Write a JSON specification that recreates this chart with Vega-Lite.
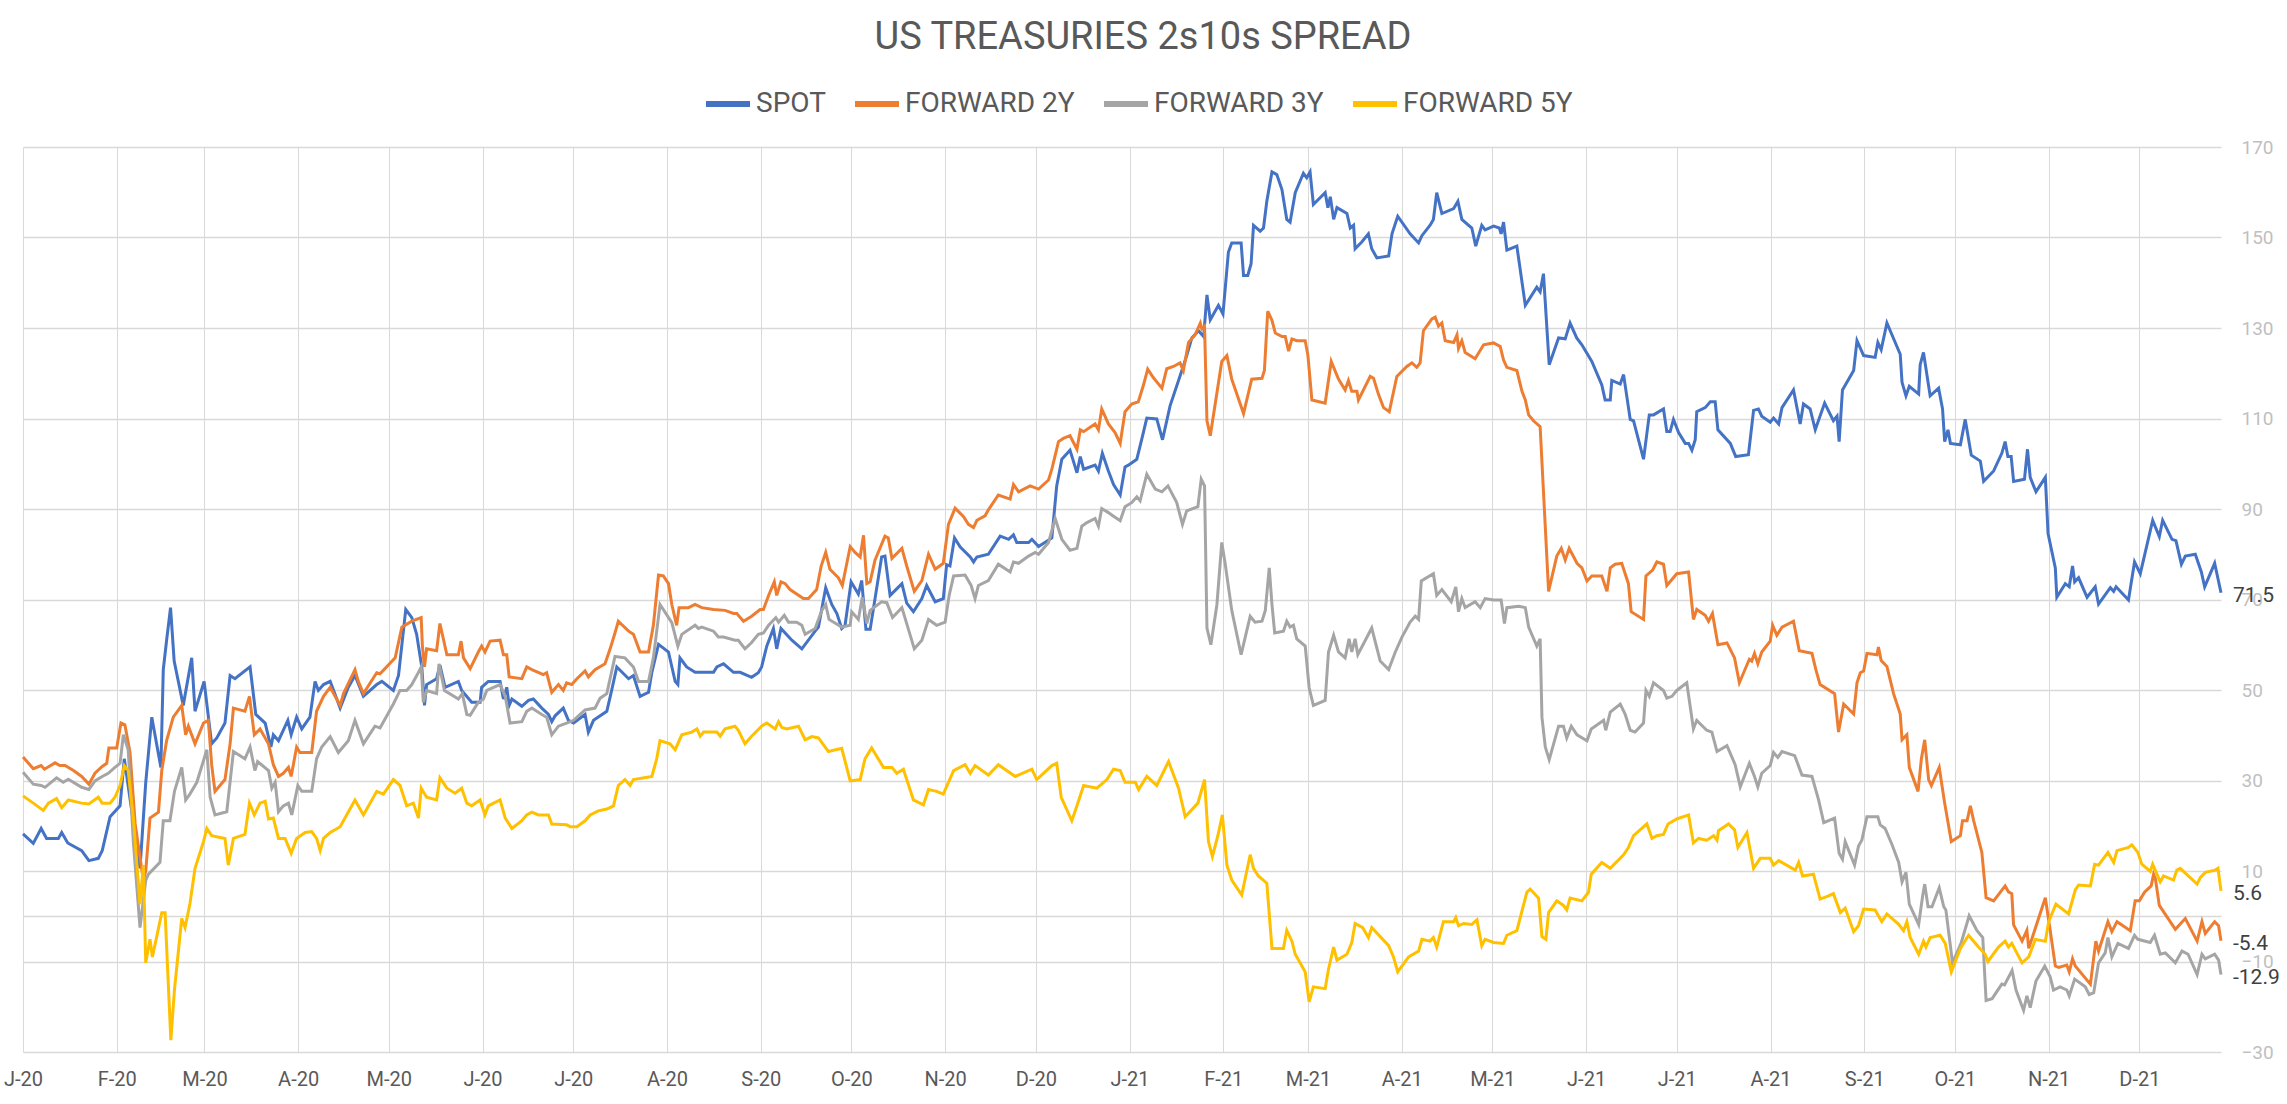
{
"$schema":"https://vega.github.io/schema/vega-lite/v6.json",
"width":2198,"height":905,
"autosize":{"type":"none"},
"padding":{"left":23,"top":147,"right":66,"bottom":52},
"background":"white",
"config":{"font":"Roboto","view":{"stroke":null},
 "legend":{"orient":"none","legendX":680,"legendY":-68,"direction":"horizontal","symbolType":"stroke","symbolSize":1936,"symbolStrokeWidth":6,"labelFontSize":28,"labelColor":"#595959","labelLimit":0,"columnPadding":17,"labelOffset":3,"title":null}},
"title":{"text":"US TREASURIES 2s10s SPREAD","fontSize":38,"fontWeight":"normal","color":"#595959","anchor":"middle","dx":21,"offset":22},
"datasets":{
"spot":[{"d":0,"v":18.2},{"d":3.4,"v":16.1},{"d":6,"v":19.4},{"d":7.8,"v":17.2},{"d":11.7,"v":17.2},{"d":12.8,"v":18.5},{"d":14.8,"v":16.2},{"d":19.4,"v":14.5},{"d":21.8,"v":12.3},{"d":24.9,"v":12.8},{"d":26.2,"v":14.5},{"d":28.8,"v":22},{"d":32.1,"v":24.4},{"d":33.5,"v":34.8},{"d":38.7,"v":10.6},{"d":40.6,"v":29.6},{"d":42.6,"v":44},{"d":45.6,"v":32.9},{"d":46.4,"v":54.5},{"d":47.5,"v":61},{"d":48.8,"v":68.2},{"d":50,"v":56.4},{"d":53,"v":46.6},{"d":55.8,"v":57.1},{"d":56.9,"v":45.3},{"d":59.9,"v":51.9},{"d":62.4,"v":38.1},{"d":64.1,"v":39.4},{"d":66.8,"v":42.7},{"d":68.5,"v":53.2},{"d":70.1,"v":52.5},{"d":75.1,"v":55.1},{"d":77,"v":44.6},{"d":80.1,"v":42.7},{"d":82,"v":37.4},{"d":82.8,"v":40.1},{"d":84.5,"v":38.8},{"d":87.6,"v":43.3},{"d":88.7,"v":40.1},{"d":90.5,"v":44},{"d":92.2,"v":41.4},{"d":94.9,"v":44},{"d":96.6,"v":51.9},{"d":97.7,"v":49.9},{"d":99.4,"v":51.2},{"d":101.6,"v":51.9},{"d":104.9,"v":46},{"d":107.6,"v":50.6},{"d":109.8,"v":53.2},{"d":112.6,"v":48.6},{"d":117,"v":51.2},{"d":118.7,"v":51.9},{"d":122.5,"v":49.9},{"d":124.2,"v":53.2},{"d":126.6,"v":67.8},{"d":128.6,"v":66},{"d":130.2,"v":62.3},{"d":131.9,"v":55.1},{"d":132.8,"v":46.6},{"d":133.5,"v":51.2},{"d":136.8,"v":52.5},{"d":137.9,"v":55.5},{"d":139.6,"v":50.6},{"d":144,"v":51.9},{"d":145.1,"v":49.9},{"d":148.4,"v":47.3},{"d":151.2,"v":47.3},{"d":151.7,"v":50.6},{"d":153.9,"v":51.9},{"d":157.8,"v":51.9},{"d":158.9,"v":48},{"d":160,"v":50.6},{"d":160.8,"v":46.6},{"d":161.7,"v":48},{"d":165,"v":46.4},{"d":167.2,"v":47.7},{"d":168.8,"v":48},{"d":171.6,"v":46},{"d":173.8,"v":44.6},{"d":174.9,"v":43},{"d":176,"v":44.3},{"d":178.7,"v":46},{"d":180.4,"v":43.3},{"d":182.1,"v":42.7},{"d":185.9,"v":44.6},{"d":187,"v":40.7},{"d":188.7,"v":43.3},{"d":193.1,"v":45.3},{"d":194.7,"v":49.9},{"d":196.4,"v":55.1},{"d":200.3,"v":52.5},{"d":201.9,"v":53.2},{"d":204.1,"v":48.6},{"d":206.9,"v":49.5},{"d":208,"v":53.9},{"d":210.2,"v":60.1},{"d":213.5,"v":58.4},{"d":215.7,"v":51.9},{"d":216.6,"v":51.2},{"d":217.3,"v":57.1},{"d":219.5,"v":55.1},{"d":222.3,"v":53.9},{"d":228.4,"v":53.9},{"d":229.5,"v":55.1},{"d":231.7,"v":55.8},{"d":235,"v":53.9},{"d":237.2,"v":53.9},{"d":241,"v":52.8},{"d":243.2,"v":53.8},{"d":244.3,"v":55.1},{"d":246,"v":59.7},{"d":248.2,"v":63.6},{"d":249.3,"v":59.1},{"d":250.7,"v":63.6},{"d":254.3,"v":61},{"d":257.6,"v":59.1},{"d":262,"v":63},{"d":263.1,"v":63.9},{"d":265.5,"v":72.6},{"d":267.5,"v":68.9},{"d":269.2,"v":66.9},{"d":270.8,"v":63.6},{"d":271.9,"v":64.3},{"d":273.9,"v":73.9},{"d":276.3,"v":71.2},{"d":277.4,"v":74.2},{"d":278.8,"v":63.4},{"d":280.2,"v":63.4},{"d":284,"v":79.4},{"d":285.1,"v":79.6},{"d":286.8,"v":70.9},{"d":290.7,"v":73.5},{"d":292.3,"v":69.2},{"d":294.5,"v":67.3},{"d":297.3,"v":70.2},{"d":298.9,"v":73.1},{"d":301.7,"v":69.5},{"d":304.4,"v":70.2},{"d":305.5,"v":77.7},{"d":306.6,"v":77.4},{"d":308.1,"v":83.6},{"d":310,"v":81.6},{"d":313.3,"v":79.4},{"d":314.4,"v":78.3},{"d":315.5,"v":79.4},{"d":319.3,"v":80},{"d":323.2,"v":84},{"d":326,"v":83.3},{"d":327.6,"v":84.3},{"d":328.7,"v":82.6},{"d":332.6,"v":82.6},{"d":333.7,"v":83.3},{"d":335.9,"v":81.7},{"d":340.3,"v":83.6},{"d":341.9,"v":95.1},{"d":343.6,"v":101},{"d":346.3,"v":103},{"d":348.6,"v":98},{"d":349.7,"v":101.6},{"d":350.8,"v":98.8},{"d":354.6,"v":99.7},{"d":355.7,"v":98.4},{"d":357,"v":102.3},{"d":359,"v":98.4},{"d":360.7,"v":95.4},{"d":362.9,"v":93.1},{"d":364.5,"v":99.3},{"d":365.6,"v":99.7},{"d":368.4,"v":101},{"d":370.1,"v":105.6},{"d":371.7,"v":110.1},{"d":375,"v":109.9},{"d":376.9,"v":105.3},{"d":379.4,"v":112.8},{"d":383.3,"v":120.6},{"d":384.9,"v":123.9},{"d":386.6,"v":127.8},{"d":388.8,"v":129.4},{"d":390.5,"v":128.1},{"d":391.6,"v":137.3},{"d":392.7,"v":131.8},{"d":395.4,"v":135},{"d":396.9,"v":133.1},{"d":398.7,"v":146.8},{"d":399.8,"v":148.8},{"d":402.9,"v":148.8},{"d":403.7,"v":141.6},{"d":405.1,"v":141.6},{"d":406.2,"v":144.2},{"d":407,"v":152.7},{"d":409.2,"v":151.4},{"d":410.3,"v":152.1},{"d":411.4,"v":158},{"d":413.1,"v":164.5},{"d":414.7,"v":163.9},{"d":416.4,"v":160.6},{"d":418,"v":154},{"d":419.1,"v":153.4},{"d":420.8,"v":159.9},{"d":423.5,"v":164.2},{"d":424.6,"v":163.2},{"d":425.7,"v":164.5},{"d":426.8,"v":157.3},{"d":430.7,"v":159.9},{"d":431.6,"v":156.6},{"d":432.4,"v":159},{"d":433.5,"v":154},{"d":434.6,"v":156.6},{"d":437.9,"v":155.3},{"d":439,"v":152.1},{"d":440.1,"v":152.7},{"d":440.6,"v":147.5},{"d":442.8,"v":149},{"d":445,"v":150.8},{"d":446.1,"v":147.5},{"d":447.8,"v":145.5},{"d":451.7,"v":145.9},{"d":452.8,"v":150.8},{"d":454.7,"v":154.7},{"d":458.8,"v":150.8},{"d":461.6,"v":148.8},{"d":462.7,"v":150.4},{"d":465.4,"v":152.7},{"d":466.5,"v":154},{"d":467.6,"v":159.9},{"d":469.3,"v":155.3},{"d":473.2,"v":156.4},{"d":474.6,"v":158},{"d":475.9,"v":154},{"d":479.2,"v":152.1},{"d":480.5,"v":148.1},{"d":482.5,"v":152.7},{"d":483.6,"v":151.7},{"d":486.4,"v":152.5},{"d":488.3,"v":152.1},{"d":488.9,"v":150.8},{"d":489.7,"v":153.4},{"d":490.8,"v":147.2},{"d":494.1,"v":148.1},{"d":496.9,"v":135},{"d":500.7,"v":139},{"d":501.8,"v":138},{"d":502.9,"v":142},{"d":504.8,"v":121.9},{"d":507.9,"v":127.8},{"d":510.1,"v":127.6},{"d":511.7,"v":131.1},{"d":513.9,"v":127.8},{"d":515.6,"v":126.3},{"d":518.9,"v":122.6},{"d":522.2,"v":117.4},{"d":523.3,"v":114.1},{"d":525,"v":114.1},{"d":525.5,"v":118.4},{"d":528.3,"v":117.6},{"d":529.4,"v":119.7},{"d":531.6,"v":109.8},{"d":532.7,"v":109.5},{"d":536,"v":101},{"d":537.9,"v":110.8},{"d":539.3,"v":110.8},{"d":542.6,"v":112.1},{"d":543.7,"v":107.1},{"d":544.8,"v":107.1},{"d":545.9,"v":109.8},{"d":547.6,"v":106.9},{"d":549.8,"v":104.5},{"d":550.9,"v":104.5},{"d":552,"v":103},{"d":553.1,"v":105.3},{"d":553.6,"v":111.5},{"d":556.4,"v":112.4},{"d":558.1,"v":113.7},{"d":559.7,"v":113.7},{"d":560.6,"v":107.5},{"d":564.7,"v":104.5},{"d":566.5,"v":101.6},{"d":570.7,"v":102},{"d":572.4,"v":111.8},{"d":574,"v":112.1},{"d":575.1,"v":110.5},{"d":577.9,"v":109.2},{"d":579,"v":110.1},{"d":580.7,"v":108.8},{"d":581.8,"v":112.4},{"d":585.6,"v":116.3},{"d":587.8,"v":108.8},{"d":588.9,"v":113.2},{"d":591.1,"v":112.1},{"d":592.8,"v":107.5},{"d":595.9,"v":113.4},{"d":598.8,"v":109.5},{"d":600,"v":110.5},{"d":600.7,"v":104.9},{"d":601.8,"v":116.3},{"d":605.5,"v":120.6},{"d":606.6,"v":127.2},{"d":608.8,"v":123.9},{"d":612.6,"v":123.5},{"d":613.5,"v":126.8},{"d":614.6,"v":125.2},{"d":616.5,"v":131.1},{"d":620.9,"v":124.2},{"d":621.5,"v":118},{"d":622.8,"v":115},{"d":623.9,"v":117.1},{"d":627,"v":115.4},{"d":627.5,"v":121.9},{"d":628.6,"v":124.6},{"d":630.8,"v":115},{"d":633.6,"v":116.7},{"d":634.9,"v":112.1},{"d":635.6,"v":104.9},{"d":636.7,"v":107.5},{"d":637.5,"v":104.5},{"d":640.8,"v":104.2},{"d":642.4,"v":109.8},{"d":644.4,"v":101.9},{"d":647.4,"v":100.6},{"d":648.5,"v":96.1},{"d":651.8,"v":98.4},{"d":654.5,"v":102.3},{"d":655.6,"v":104.9},{"d":656.5,"v":101.6},{"d":657.6,"v":101.6},{"d":658.4,"v":96.1},{"d":662,"v":96.6},{"d":663,"v":103.2},{"d":663.9,"v":97},{"d":665.8,"v":93.8},{"d":668.9,"v":97},{"d":669.8,"v":84.6},{"d":672.2,"v":77},{"d":672.7,"v":70.5},{"d":675.5,"v":73.5},{"d":676.8,"v":72.8},{"d":677.9,"v":77.4},{"d":678.6,"v":73.9},{"d":679.9,"v":74.8},{"d":682.7,"v":70.5},{"d":685.4,"v":72.8},{"d":686.5,"v":69},{"d":690.4,"v":72.6},{"d":691.5,"v":71.8},{"d":692.3,"v":72.8},{"d":696.4,"v":69.9},{"d":698.4,"v":78.3},{"d":700.3,"v":75.7},{"d":704.4,"v":87.5},{"d":706.6,"v":83.9},{"d":707.7,"v":87.5},{"d":710.8,"v":83.3},{"d":712.1,"v":83},{"d":713.9,"v":77.8},{"d":715.2,"v":79.6},{"d":718.5,"v":80},{"d":720.5,"v":76.1},{"d":721.6,"v":72.8},{"d":724.9,"v":78},{"d":727,"v":71.5}],
"f2":[{"d":0,"v":35.2},{"d":3.4,"v":32.6},{"d":6,"v":33.3},{"d":7.1,"v":32.5},{"d":10.6,"v":33.9},{"d":12.2,"v":33.3},{"d":13.9,"v":33.3},{"d":16.7,"v":32.2},{"d":19.4,"v":30.9},{"d":21.8,"v":29.2},{"d":23.8,"v":31.6},{"d":26.2,"v":33.1},{"d":27.7,"v":33.8},{"d":28.4,"v":37.2},{"d":31,"v":37.2},{"d":32.4,"v":42.7},{"d":33.7,"v":42.3},{"d":35.4,"v":36.2},{"d":37.1,"v":20.4},{"d":39.8,"v":8},{"d":40.6,"v":10},{"d":42,"v":21.7},{"d":44.8,"v":23},{"d":45.9,"v":32.2},{"d":47.5,"v":38.8},{"d":49.7,"v":44},{"d":52.5,"v":46.6},{"d":53.8,"v":40.1},{"d":54.7,"v":42},{"d":56.9,"v":38.1},{"d":59.7,"v":42.7},{"d":61.3,"v":43.3},{"d":62.4,"v":33.5},{"d":63.5,"v":27.6},{"d":66.8,"v":30.2},{"d":68.5,"v":38.1},{"d":69.6,"v":46},{"d":73.4,"v":45.3},{"d":74.9,"v":48.6},{"d":76.5,"v":40.1},{"d":78.4,"v":41.4},{"d":81.2,"v":38.1},{"d":82.8,"v":33.5},{"d":84.5,"v":30.9},{"d":86.1,"v":31.6},{"d":87.8,"v":32.9},{"d":88.7,"v":30.9},{"d":90.5,"v":37.4},{"d":91.6,"v":36.2},{"d":95.5,"v":36.2},{"d":97.1,"v":45.3},{"d":99.4,"v":48.6},{"d":101.6,"v":50.6},{"d":104.9,"v":46.6},{"d":106,"v":49.2},{"d":109.8,"v":54.5},{"d":110.9,"v":51.9},{"d":112.6,"v":49.2},{"d":117,"v":53.8},{"d":118.1,"v":53.6},{"d":123.1,"v":57.1},{"d":125.3,"v":63.9},{"d":128.6,"v":65.2},{"d":131.7,"v":66},{"d":132.1,"v":59.7},{"d":132.8,"v":55.1},{"d":133.5,"v":59.1},{"d":136.8,"v":58.7},{"d":137.9,"v":64.7},{"d":140.2,"v":57.8},{"d":144,"v":57.8},{"d":144.9,"v":60.8},{"d":145.7,"v":57.1},{"d":147.9,"v":54.7},{"d":150.6,"v":58.4},{"d":151.7,"v":59.7},{"d":152.8,"v":58.4},{"d":154.5,"v":60.8},{"d":157.8,"v":61},{"d":158.9,"v":57.8},{"d":160,"v":57.8},{"d":160.8,"v":52.9},{"d":165,"v":52.5},{"d":166.6,"v":55.1},{"d":168.3,"v":54.5},{"d":172.1,"v":53.4},{"d":173.2,"v":53.8},{"d":174.9,"v":49.5},{"d":177.1,"v":51.2},{"d":178.7,"v":49.9},{"d":179.8,"v":51.6},{"d":181.5,"v":51.2},{"d":183.2,"v":52.5},{"d":185.9,"v":54.2},{"d":187,"v":52.9},{"d":189.2,"v":54.5},{"d":192.5,"v":55.8},{"d":194.2,"v":59.1},{"d":195.8,"v":62.6},{"d":196.9,"v":65.2},{"d":200.3,"v":63},{"d":201.9,"v":62.3},{"d":204.1,"v":58.4},{"d":206.9,"v":58.4},{"d":208.5,"v":64.3},{"d":210.2,"v":75.4},{"d":211.8,"v":75.2},{"d":213.5,"v":73.5},{"d":214.6,"v":68.9},{"d":216.2,"v":64.3},{"d":217,"v":68.2},{"d":220.1,"v":68.2},{"d":222.3,"v":68.9},{"d":224.5,"v":68.2},{"d":228.4,"v":67.8},{"d":232.2,"v":67.6},{"d":235,"v":66.9},{"d":236.1,"v":66.9},{"d":238.3,"v":65.2},{"d":241,"v":66.3},{"d":243.8,"v":67.8},{"d":244.9,"v":67.8},{"d":246.6,"v":70.9},{"d":248.5,"v":73.9},{"d":249.3,"v":70.9},{"d":250.7,"v":73.9},{"d":252.1,"v":73.5},{"d":253.7,"v":72.2},{"d":255.9,"v":71.2},{"d":258.1,"v":70.2},{"d":259.8,"v":70.2},{"d":262.5,"v":72.2},{"d":264,"v":77.4},{"d":265.5,"v":80.4},{"d":266.9,"v":76.7},{"d":269.7,"v":74.8},{"d":271,"v":73.1},{"d":273.6,"v":81.7},{"d":275.2,"v":80.4},{"d":276.9,"v":79.4},{"d":278,"v":84.2},{"d":279.1,"v":73.5},{"d":280.2,"v":73.9},{"d":281.8,"v":78.7},{"d":285.1,"v":84},{"d":286.2,"v":83.6},{"d":287.4,"v":79.1},{"d":290.7,"v":81.3},{"d":292.3,"v":77.4},{"d":294.8,"v":71.8},{"d":297.3,"v":74.2},{"d":299.5,"v":80},{"d":301.7,"v":76.7},{"d":304.4,"v":78},{"d":306.1,"v":86.6},{"d":308.3,"v":90.2},{"d":311.1,"v":88.3},{"d":312.7,"v":86.6},{"d":314.4,"v":85.9},{"d":315.5,"v":87.5},{"d":318.2,"v":88.5},{"d":319.3,"v":89.8},{"d":322.6,"v":93.1},{"d":326.5,"v":92.2},{"d":327.6,"v":95.4},{"d":329.3,"v":93.8},{"d":333.1,"v":95.1},{"d":335.9,"v":94.4},{"d":339.2,"v":96.4},{"d":340.3,"v":98.8},{"d":342.5,"v":104.9},{"d":344.1,"v":105.6},{"d":346.3,"v":106.2},{"d":348.6,"v":103.2},{"d":349.7,"v":107.5},{"d":350.8,"v":107.1},{"d":354.6,"v":108.8},{"d":355.7,"v":107.5},{"d":356.8,"v":112.1},{"d":359,"v":108.8},{"d":361.2,"v":106.9},{"d":362.9,"v":104.5},{"d":364.5,"v":111.5},{"d":366.7,"v":113.2},{"d":368.9,"v":113.7},{"d":370.6,"v":117.4},{"d":372,"v":120.9},{"d":373.9,"v":119},{"d":375.6,"v":117.6},{"d":376.7,"v":116.7},{"d":378.3,"v":121},{"d":380.5,"v":121.5},{"d":382.7,"v":122.3},{"d":383.8,"v":120.6},{"d":385.5,"v":126.8},{"d":387.7,"v":128.5},{"d":389.4,"v":131.1},{"d":389.9,"v":129.8},{"d":390.8,"v":130.4},{"d":391.6,"v":109.5},{"d":392.7,"v":106.2},{"d":396.5,"v":122.6},{"d":398.2,"v":123.9},{"d":399.8,"v":118.7},{"d":403.7,"v":111.1},{"d":406.4,"v":118.7},{"d":409.8,"v":118.9},{"d":410.6,"v":120.6},{"d":411.7,"v":133.7},{"d":413.1,"v":131.7},{"d":414.2,"v":128.9},{"d":416.4,"v":128.1},{"d":417.5,"v":128.1},{"d":418.6,"v":124.9},{"d":419.7,"v":127.6},{"d":421.3,"v":127.2},{"d":424.1,"v":127.2},{"d":425,"v":123.9},{"d":426.3,"v":114.1},{"d":430.7,"v":113.4},{"d":432.7,"v":122.6},{"d":435.1,"v":118.7},{"d":437.3,"v":116.3},{"d":438.4,"v":118.4},{"d":439.5,"v":116},{"d":441.2,"v":116},{"d":441.7,"v":114.1},{"d":445.6,"v":119.3},{"d":446.7,"v":118.9},{"d":448.3,"v":115.4},{"d":450,"v":112.4},{"d":451.9,"v":111.5},{"d":454.4,"v":119.3},{"d":457.7,"v":121.5},{"d":459.4,"v":122.3},{"d":461,"v":121.3},{"d":462.1,"v":122.3},{"d":463.2,"v":129.4},{"d":466,"v":132},{"d":467.1,"v":132.4},{"d":468.2,"v":130.4},{"d":469.3,"v":131.1},{"d":470.4,"v":127.2},{"d":473.2,"v":126.8},{"d":474.3,"v":128.5},{"d":474.8,"v":125.5},{"d":475.9,"v":127.2},{"d":477,"v":124.6},{"d":480.3,"v":123.2},{"d":483.1,"v":126.3},{"d":486.4,"v":126.7},{"d":488.6,"v":125.9},{"d":489.7,"v":122.9},{"d":490.8,"v":121.3},{"d":494.1,"v":120.6},{"d":495.8,"v":116},{"d":496.9,"v":114.1},{"d":498,"v":110.8},{"d":499.6,"v":109.5},{"d":501.8,"v":108.2},{"d":504.6,"v":71.8},{"d":507.3,"v":79.6},{"d":508.8,"v":81.3},{"d":510.1,"v":78.7},{"d":511.4,"v":81.3},{"d":514,"v":78},{"d":515.6,"v":77},{"d":517.3,"v":74.1},{"d":518.9,"v":75.2},{"d":522.2,"v":75.2},{"d":523.9,"v":71.8},{"d":525,"v":77},{"d":526.6,"v":77.8},{"d":528.8,"v":78},{"d":531,"v":73.5},{"d":531.9,"v":67.3},{"d":536,"v":65.6},{"d":536.8,"v":75.2},{"d":539,"v":76.5},{"d":540.4,"v":78.3},{"d":542.6,"v":77.8},{"d":543.7,"v":73.1},{"d":547,"v":75.7},{"d":550.9,"v":76.1},{"d":552.5,"v":65.6},{"d":553.6,"v":67.8},{"d":556.4,"v":66.5},{"d":557.5,"v":65.2},{"d":558.8,"v":66.9},{"d":560.6,"v":60},{"d":563.6,"v":60.4},{"d":566.1,"v":57.1},{"d":567.7,"v":51.6},{"d":571,"v":56.8},{"d":571.8,"v":56.4},{"d":572.7,"v":58.1},{"d":573.8,"v":55.8},{"d":575.1,"v":58.4},{"d":577.9,"v":60.8},{"d":578.7,"v":64.3},{"d":580.1,"v":62.1},{"d":581.8,"v":63.9},{"d":585.6,"v":65.2},{"d":587.5,"v":58.7},{"d":591.7,"v":58.1},{"d":593,"v":54.5},{"d":594.4,"v":51.2},{"d":599.2,"v":49.2},{"d":600.5,"v":40.7},{"d":602.2,"v":46.9},{"d":605.5,"v":44.7},{"d":606.6,"v":51.6},{"d":607.7,"v":53.8},{"d":608.8,"v":54.2},{"d":609.9,"v":58.1},{"d":613.2,"v":57.8},{"d":613.7,"v":59.5},{"d":614.6,"v":56.5},{"d":616.5,"v":55.2},{"d":618.7,"v":49.2},{"d":620.9,"v":44.7},{"d":621.5,"v":39},{"d":623.1,"v":40.1},{"d":623.9,"v":32.9},{"d":626.8,"v":27.6},{"d":627.9,"v":34.8},{"d":629,"v":39},{"d":630.3,"v":30.2},{"d":631.2,"v":28.9},{"d":633.8,"v":32.9},{"d":635.6,"v":25},{"d":637.8,"v":16.5},{"d":640.8,"v":17.8},{"d":641.5,"v":21.1},{"d":643,"v":21.1},{"d":644.1,"v":24.4},{"d":645.2,"v":21.1},{"d":647.9,"v":14.1},{"d":649.3,"v":4.1},{"d":651.8,"v":3.4},{"d":655.6,"v":6.7},{"d":656.7,"v":5.4},{"d":657.8,"v":5},{"d":658.4,"v":-1.9},{"d":661.2,"v":-5.5},{"d":662.8,"v":-3.1},{"d":663.4,"v":-7.1},{"d":668.9,"v":4.1},{"d":670.5,"v":-3.1},{"d":672.2,"v":-11},{"d":673.3,"v":-11.3},{"d":676,"v":-10.8},{"d":676.8,"v":-12.3},{"d":677.9,"v":-9.4},{"d":678.8,"v":-11},{"d":683.8,"v":-15},{"d":685.6,"v":-5.5},{"d":686.5,"v":-7.7},{"d":689.6,"v":-1.2},{"d":690.9,"v":-3.4},{"d":692.6,"v":-1.2},{"d":697,"v":-3.2},{"d":698.6,"v":3.4},{"d":700,"v":3.4},{"d":701.7,"v":5.3},{"d":703.9,"v":6.7},{"d":704.7,"v":9.3},{"d":705.3,"v":8.3},{"d":706.6,"v":2.4},{"d":711.9,"v":-2.9},{"d":715.2,"v":-0.5},{"d":719.1,"v":-5.5},{"d":720.7,"v":-1.2},{"d":721.8,"v":-3.8},{"d":724.9,"v":-1.2},{"d":726.2,"v":-2.1},{"d":727,"v":-5.4}],
"f3":[{"d":0,"v":31.8},{"d":3.4,"v":29.2},{"d":6,"v":28.9},{"d":7.3,"v":28.5},{"d":11.1,"v":30.6},{"d":13.3,"v":29.6},{"d":15,"v":30.3},{"d":19.4,"v":28.5},{"d":21.8,"v":28},{"d":23.8,"v":29.9},{"d":26.2,"v":30.9},{"d":28.2,"v":31.6},{"d":30.4,"v":32.9},{"d":32.1,"v":33.8},{"d":33.2,"v":40.1},{"d":34.8,"v":36.8},{"d":36.5,"v":16.5},{"d":38.7,"v":-2.5},{"d":40.6,"v":8},{"d":41.5,"v":9.3},{"d":45.3,"v":11.9},{"d":46.4,"v":21.1},{"d":48.6,"v":21.1},{"d":50.1,"v":27.6},{"d":52.5,"v":32.9},{"d":53.8,"v":25.7},{"d":55.2,"v":27},{"d":57.5,"v":29.6},{"d":60.8,"v":36.8},{"d":61.9,"v":26.3},{"d":63.5,"v":22.4},{"d":67.4,"v":23.1},{"d":69.6,"v":36.4},{"d":73.4,"v":34.8},{"d":75.1,"v":37.4},{"d":76.7,"v":32.2},{"d":77.6,"v":34.2},{"d":81.2,"v":32.2},{"d":82.3,"v":28.3},{"d":83.4,"v":29.6},{"d":84.5,"v":23.1},{"d":86.1,"v":24.4},{"d":87.8,"v":25},{"d":88.9,"v":22.4},{"d":90.9,"v":28.9},{"d":92.2,"v":27.6},{"d":95.5,"v":27.6},{"d":97.1,"v":34.8},{"d":98.8,"v":37.4},{"d":101.6,"v":39.7},{"d":104.3,"v":36.2},{"d":107.6,"v":38.8},{"d":109.8,"v":43.3},{"d":112.6,"v":38.1},{"d":116.4,"v":42},{"d":118.1,"v":41.6},{"d":122.5,"v":46.9},{"d":124.7,"v":49.9},{"d":126.9,"v":49.9},{"d":128.6,"v":51.2},{"d":130.8,"v":53.9},{"d":131.7,"v":55.1},{"d":132.4,"v":47.3},{"d":133.5,"v":49.9},{"d":136.8,"v":49.2},{"d":137.6,"v":55.8},{"d":139.4,"v":49.9},{"d":144,"v":48},{"d":145.3,"v":49.2},{"d":146.8,"v":44.6},{"d":147.9,"v":44.4},{"d":150.6,"v":47.3},{"d":152.3,"v":48},{"d":153.4,"v":49.9},{"d":157.8,"v":51.2},{"d":159.5,"v":48.6},{"d":161.1,"v":42.7},{"d":165,"v":43},{"d":166.6,"v":45.3},{"d":168.3,"v":46},{"d":171.6,"v":44.6},{"d":173.2,"v":44},{"d":174.9,"v":40.1},{"d":177.1,"v":42},{"d":179.8,"v":42.7},{"d":182.1,"v":43.3},{"d":185.9,"v":45.6},{"d":189.2,"v":46},{"d":190.9,"v":48.2},{"d":193.1,"v":49.2},{"d":195.8,"v":57.4},{"d":199.1,"v":57.1},{"d":201.9,"v":55.1},{"d":203.6,"v":51.9},{"d":206.9,"v":51.9},{"d":208.5,"v":57.1},{"d":210.7,"v":68.9},{"d":214.6,"v":64.9},{"d":216.6,"v":59.7},{"d":217.9,"v":62.3},{"d":222.3,"v":64.3},{"d":223.4,"v":63.6},{"d":224.5,"v":63.9},{"d":228.4,"v":63},{"d":230,"v":61.7},{"d":231.7,"v":61.7},{"d":235.5,"v":61},{"d":236.6,"v":61},{"d":238.8,"v":59.1},{"d":241,"v":60.5},{"d":243.2,"v":62.3},{"d":244.9,"v":62.6},{"d":246.6,"v":64.3},{"d":249,"v":66},{"d":249.9,"v":65},{"d":251.8,"v":66.5},{"d":253.2,"v":65},{"d":255.9,"v":65},{"d":257.6,"v":64.3},{"d":258.7,"v":62.3},{"d":262,"v":63.6},{"d":264.2,"v":67.6},{"d":265.5,"v":68.9},{"d":266.6,"v":65.6},{"d":270.8,"v":63.9},{"d":273.6,"v":64.3},{"d":274.1,"v":67.3},{"d":276.3,"v":65.6},{"d":277.6,"v":70.5},{"d":279.1,"v":64.7},{"d":280.2,"v":67.6},{"d":284,"v":69.5},{"d":285.7,"v":69.3},{"d":287.6,"v":66},{"d":290.7,"v":68.2},{"d":294.8,"v":59.1},{"d":297.3,"v":61},{"d":299.5,"v":65.6},{"d":302.2,"v":64.3},{"d":305,"v":65},{"d":306.3,"v":70.8},{"d":307.8,"v":75.2},{"d":311.6,"v":75.4},{"d":313.6,"v":73.1},{"d":314.9,"v":70.2},{"d":316,"v":73.1},{"d":319.3,"v":74.2},{"d":322.6,"v":77.8},{"d":326.5,"v":76.1},{"d":327.6,"v":78.3},{"d":329.3,"v":78},{"d":332.6,"v":79.6},{"d":334.8,"v":80.4},{"d":335.9,"v":80},{"d":339.2,"v":82.6},{"d":341.4,"v":87.9},{"d":343.6,"v":83.3},{"d":346.3,"v":80.9},{"d":348.6,"v":81.3},{"d":350.2,"v":86.2},{"d":351.9,"v":87},{"d":354.6,"v":87.9},{"d":355.7,"v":86.2},{"d":356.8,"v":90.1},{"d":359,"v":89.2},{"d":360.7,"v":88.4},{"d":362.9,"v":87.4},{"d":364.5,"v":90.5},{"d":366.7,"v":91.4},{"d":368.4,"v":92.7},{"d":369.5,"v":91.8},{"d":371.7,"v":97.7},{"d":374.5,"v":94.4},{"d":376.7,"v":93.8},{"d":378.7,"v":95.1},{"d":381.6,"v":91.4},{"d":383.5,"v":86.6},{"d":384.9,"v":89.6},{"d":388.6,"v":90.5},{"d":389.7,"v":96.6},{"d":390.8,"v":95.1},{"d":391.6,"v":63.7},{"d":392.9,"v":60},{"d":394.9,"v":68.9},{"d":396.5,"v":82.6},{"d":397.6,"v":78},{"d":399.8,"v":67.6},{"d":402.9,"v":57.8},{"d":405.9,"v":66.3},{"d":407.5,"v":65},{"d":409.8,"v":65.2},{"d":410.9,"v":67.6},{"d":412.2,"v":77},{"d":413.1,"v":68.9},{"d":414,"v":62.6},{"d":416.9,"v":63},{"d":418,"v":65.2},{"d":419.1,"v":63.9},{"d":420.2,"v":64.3},{"d":421.3,"v":61.3},{"d":424.1,"v":59.7},{"d":425.4,"v":50.5},{"d":426.8,"v":46.6},{"d":430.7,"v":47.7},{"d":431.8,"v":58.4},{"d":433.5,"v":62.1},{"d":435.1,"v":58.4},{"d":437.3,"v":57.1},{"d":438.6,"v":61.3},{"d":439.5,"v":58.4},{"d":440.6,"v":61.3},{"d":441.5,"v":57.8},{"d":446.1,"v":63.7},{"d":448.9,"v":56.4},{"d":451.7,"v":54.5},{"d":453.9,"v":58.4},{"d":456.1,"v":61.7},{"d":458.8,"v":65},{"d":460.5,"v":66.3},{"d":461.6,"v":65.6},{"d":462.5,"v":74.1},{"d":466.5,"v":75.7},{"d":467.6,"v":70.9},{"d":469.3,"v":72.2},{"d":472.4,"v":69.5},{"d":473.9,"v":72.8},{"d":474.8,"v":67.3},{"d":475.9,"v":70.2},{"d":477,"v":68.2},{"d":480.3,"v":69.5},{"d":482,"v":68.2},{"d":483.6,"v":70.2},{"d":486.4,"v":69.9},{"d":488.9,"v":69.9},{"d":490,"v":64.7},{"d":490.8,"v":68.2},{"d":494.7,"v":68.5},{"d":496.9,"v":68.2},{"d":498,"v":63.9},{"d":500.7,"v":59.7},{"d":501.8,"v":61.3},{"d":502.4,"v":44},{"d":503.5,"v":37.4},{"d":504.8,"v":34.6},{"d":507.9,"v":42},{"d":509.5,"v":42},{"d":510.6,"v":39.4},{"d":512.1,"v":42},{"d":514,"v":40.1},{"d":517.3,"v":38.8},{"d":518.7,"v":41.4},{"d":520,"v":42},{"d":522.8,"v":43.3},{"d":523.5,"v":41.1},{"d":525,"v":45.1},{"d":528.3,"v":46.9},{"d":529.9,"v":44.7},{"d":531.6,"v":41.1},{"d":533.2,"v":40.7},{"d":536,"v":42.7},{"d":536.8,"v":49.9},{"d":537.9,"v":48.6},{"d":539.3,"v":51.6},{"d":542.6,"v":49.9},{"d":543.7,"v":48.2},{"d":545.4,"v":48.6},{"d":547,"v":49.9},{"d":550.3,"v":51.6},{"d":552.5,"v":41.4},{"d":553.6,"v":43.3},{"d":556.9,"v":41.1},{"d":558.6,"v":40.7},{"d":560.3,"v":36.4},{"d":563.6,"v":37.7},{"d":566.3,"v":33.5},{"d":568,"v":28.6},{"d":571,"v":33.8},{"d":572.7,"v":30.9},{"d":573.8,"v":28.6},{"d":575.1,"v":31.6},{"d":577.9,"v":33.3},{"d":579,"v":36.2},{"d":580.4,"v":35.1},{"d":581.8,"v":36.4},{"d":586,"v":35.5},{"d":588.4,"v":31.2},{"d":591.7,"v":30.9},{"d":593.9,"v":25.7},{"d":595.6,"v":20.7},{"d":599.2,"v":21.7},{"d":600.7,"v":13.9},{"d":601.8,"v":12.6},{"d":602.7,"v":16.5},{"d":605.8,"v":11.3},{"d":607.1,"v":15.5},{"d":608.2,"v":16.8},{"d":609.9,"v":22},{"d":613.5,"v":22},{"d":614.3,"v":20.2},{"d":615.9,"v":19.4},{"d":618.2,"v":15.8},{"d":620.4,"v":11.9},{"d":621.5,"v":7.6},{"d":622.8,"v":9.7},{"d":623.9,"v":2.7},{"d":627,"v":-1.8},{"d":628.3,"v":4.4},{"d":629,"v":7.1},{"d":630.1,"v":2.1},{"d":631.4,"v":2.1},{"d":633.8,"v":6.3},{"d":635.3,"v":2.1},{"d":636,"v":1.4},{"d":638.2,"v":-10.3},{"d":641.1,"v":-5.8},{"d":643.7,"v":0.1},{"d":646.3,"v":-3.2},{"d":648.2,"v":-4.7},{"d":649.3,"v":-18.6},{"d":651.3,"v":-18.2},{"d":654.5,"v":-15},{"d":655.4,"v":-15.2},{"d":657.9,"v":-12},{"d":659.2,"v":-16.3},{"d":661.7,"v":-20.8},{"d":662.8,"v":-17.6},{"d":663.9,"v":-20.2},{"d":665.8,"v":-14.3},{"d":668.7,"v":-11},{"d":670.5,"v":-13.4},{"d":671.6,"v":-16.3},{"d":673.8,"v":-15.6},{"d":676,"v":-16.3},{"d":676.8,"v":-17.6},{"d":678.6,"v":-13.9},{"d":682.1,"v":-15.6},{"d":683.4,"v":-17.3},{"d":684.9,"v":-16.9},{"d":686.5,"v":-10.3},{"d":688.7,"v":-8.1},{"d":689.6,"v":-4.7},{"d":690.9,"v":-9},{"d":692.9,"v":-6},{"d":696.4,"v":-7.1},{"d":698.4,"v":-4.2},{"d":699.5,"v":-5.1},{"d":703.6,"v":-5.8},{"d":705,"v":-4.2},{"d":706.9,"v":-8.4},{"d":708.6,"v":-8.1},{"d":711.9,"v":-10.3},{"d":714.1,"v":-7.7},{"d":716.1,"v":-8.4},{"d":719.1,"v":-12.9},{"d":720.7,"v":-8.4},{"d":721.8,"v":-9.4},{"d":724.9,"v":-8.4},{"d":726.2,"v":-9.7},{"d":727,"v":-12.9}],
"f5":[{"d":0,"v":26.6},{"d":3.4,"v":25},{"d":6.7,"v":23.4},{"d":8.4,"v":25},{"d":11.1,"v":26},{"d":12.8,"v":24},{"d":15,"v":25.7},{"d":19.4,"v":25},{"d":21.8,"v":24.8},{"d":24.9,"v":26.3},{"d":26.2,"v":25},{"d":28.8,"v":25},{"d":30.4,"v":26.3},{"d":32.1,"v":28.9},{"d":33.5,"v":33.3},{"d":34.8,"v":32.2},{"d":36.5,"v":21.7},{"d":38.7,"v":2.7},{"d":39.8,"v":11.3},{"d":40.6,"v":-10.3},{"d":42,"v":-5.1},{"d":42.8,"v":-9},{"d":45.9,"v":0.8},{"d":47,"v":0.8},{"d":48.9,"v":-27.4},{"d":50.1,"v":-16.2},{"d":52.5,"v":-0.5},{"d":53.6,"v":-2.5},{"d":55.2,"v":2.7},{"d":56.9,"v":10.6},{"d":59.7,"v":16.5},{"d":60.8,"v":19.4},{"d":62.4,"v":17.8},{"d":66.8,"v":17.2},{"d":67.9,"v":11.3},{"d":69.6,"v":17.2},{"d":73.4,"v":18.1},{"d":74.9,"v":25},{"d":76.5,"v":22.4},{"d":78.4,"v":25},{"d":80.1,"v":25.4},{"d":81.2,"v":21.5},{"d":82.8,"v":21.7},{"d":84.5,"v":17.2},{"d":86.7,"v":17.2},{"d":88.7,"v":13.9},{"d":90.5,"v":17.2},{"d":93.3,"v":18.5},{"d":95.5,"v":18.7},{"d":97.1,"v":17.2},{"d":98.3,"v":14.5},{"d":99.4,"v":17.2},{"d":101.6,"v":18.5},{"d":103.2,"v":19.1},{"d":104.9,"v":19.8},{"d":109.8,"v":25.7},{"d":112.6,"v":22.4},{"d":117,"v":27.6},{"d":119.2,"v":27},{"d":122.5,"v":30.2},{"d":124.7,"v":28.9},{"d":126.9,"v":24.4},{"d":129.1,"v":25},{"d":130.8,"v":21.7},{"d":131.7,"v":28.3},{"d":133.5,"v":26.3},{"d":136.8,"v":25.7},{"d":137.9,"v":30.6},{"d":140.2,"v":28.3},{"d":142.9,"v":27.2},{"d":145.1,"v":28.3},{"d":146.8,"v":25},{"d":148.4,"v":24.4},{"d":151.2,"v":25.7},{"d":152.8,"v":22.4},{"d":153.9,"v":24.4},{"d":157.8,"v":25.7},{"d":159.5,"v":21.7},{"d":161.7,"v":19.4},{"d":165,"v":21.1},{"d":166.6,"v":22.4},{"d":168.3,"v":23},{"d":170.5,"v":22.4},{"d":173.8,"v":22.4},{"d":174.9,"v":20.4},{"d":179.8,"v":20.2},{"d":181,"v":19.8},{"d":183.2,"v":19.8},{"d":185.9,"v":21.1},{"d":187.6,"v":22.4},{"d":190.3,"v":23.3},{"d":193.1,"v":23.7},{"d":195.3,"v":24.4},{"d":196.9,"v":28.9},{"d":199.1,"v":30.2},{"d":200.8,"v":28.9},{"d":201.9,"v":30.2},{"d":208,"v":30.9},{"d":209.6,"v":34.8},{"d":210.7,"v":38.8},{"d":214,"v":38.1},{"d":215.7,"v":36.8},{"d":217.9,"v":40.1},{"d":221.2,"v":40.7},{"d":222.9,"v":41.4},{"d":224,"v":39.8},{"d":225.1,"v":40.7},{"d":229.5,"v":40.7},{"d":230.6,"v":39.8},{"d":232.2,"v":41.4},{"d":235.5,"v":42},{"d":236.6,"v":41.1},{"d":238.8,"v":38.1},{"d":241,"v":39.8},{"d":244.3,"v":42},{"d":246,"v":42.7},{"d":248.8,"v":41.4},{"d":249.9,"v":43},{"d":251,"v":41.7},{"d":252.6,"v":41.4},{"d":256.5,"v":42},{"d":258.7,"v":39},{"d":260.9,"v":39.7},{"d":263.1,"v":39.4},{"d":266.4,"v":36.4},{"d":270.8,"v":37.1},{"d":273.6,"v":29.9},{"d":276.9,"v":30.2},{"d":278.5,"v":34.8},{"d":280.7,"v":37.2},{"d":284.6,"v":32.9},{"d":287.4,"v":32.9},{"d":289,"v":31.6},{"d":291.2,"v":32.5},{"d":294.5,"v":25.7},{"d":297.8,"v":24.6},{"d":299.5,"v":28},{"d":302.2,"v":27.6},{"d":304.4,"v":27},{"d":307.8,"v":32.2},{"d":311.6,"v":33.5},{"d":313.3,"v":31.6},{"d":314.9,"v":33.3},{"d":319.3,"v":31.2},{"d":322.6,"v":33.5},{"d":328.2,"v":30.9},{"d":333.7,"v":32.5},{"d":335.3,"v":30.2},{"d":340.3,"v":33.3},{"d":341.9,"v":33.8},{"d":343.4,"v":26.3},{"d":346.9,"v":21.1},{"d":348.6,"v":24.4},{"d":350.8,"v":28.9},{"d":355.2,"v":28.3},{"d":358.5,"v":30.2},{"d":360.7,"v":32.5},{"d":362.9,"v":32.2},{"d":364.5,"v":29.6},{"d":367.9,"v":29.6},{"d":369,"v":28},{"d":371.7,"v":30.9},{"d":375,"v":28.9},{"d":378.9,"v":34.2},{"d":382.2,"v":28.3},{"d":384.4,"v":22},{"d":388.6,"v":25},{"d":390.8,"v":30.2},{"d":392.1,"v":16.5},{"d":393.4,"v":13.2},{"d":395.2,"v":17.8},{"d":396.7,"v":22.4},{"d":398.2,"v":11.3},{"d":399.8,"v":8},{"d":403.1,"v":4.7},{"d":405.9,"v":13.6},{"d":407,"v":10.6},{"d":408.6,"v":8.9},{"d":411.4,"v":7.3},{"d":413.1,"v":-7.1},{"d":416.9,"v":-7.1},{"d":418,"v":-3.1},{"d":419.7,"v":-5.5},{"d":420.8,"v":-8.4},{"d":424.1,"v":-12.3},{"d":425.4,"v":-18.9},{"d":426.8,"v":-15.6},{"d":430.7,"v":-16},{"d":431.8,"v":-11.7},{"d":433.5,"v":-6.8},{"d":434.6,"v":-9.7},{"d":437.9,"v":-8.4},{"d":439.5,"v":-5.8},{"d":440.6,"v":-1.6},{"d":443.1,"v":-2.5},{"d":445,"v":-4.7},{"d":446.1,"v":-2.5},{"d":451.7,"v":-6.5},{"d":453.3,"v":-9},{"d":454.7,"v":-12.3},{"d":458.3,"v":-9},{"d":461.6,"v":-7.7},{"d":462.7,"v":-5.1},{"d":465.4,"v":-5.5},{"d":466.5,"v":-4.7},{"d":467.6,"v":-6.8},{"d":469.8,"v":-1.2},{"d":473.2,"v":-1.2},{"d":473.9,"v":-0.3},{"d":474.8,"v":-2.1},{"d":476.5,"v":-1.6},{"d":479.2,"v":-1.8},{"d":480.9,"v":-0.8},{"d":482.5,"v":-6.5},{"d":483.6,"v":-5.1},{"d":486.4,"v":-5.8},{"d":489.7,"v":-6},{"d":490.8,"v":-4.2},{"d":494.1,"v":-3.2},{"d":497.4,"v":5.3},{"d":498.5,"v":6},{"d":501.3,"v":4},{"d":502.4,"v":-4.5},{"d":503.7,"v":-5.1},{"d":504.6,"v":0.8},{"d":507.3,"v":3.4},{"d":509.5,"v":2.4},{"d":510.6,"v":1.4},{"d":511.7,"v":4},{"d":515.6,"v":3.4},{"d":517.8,"v":5.3},{"d":518.7,"v":9.3},{"d":522.2,"v":11.9},{"d":525,"v":10.6},{"d":529.4,"v":13.6},{"d":531,"v":15.2},{"d":532.7,"v":17.8},{"d":537.1,"v":20.4},{"d":538.8,"v":17.2},{"d":540.4,"v":17.8},{"d":542.6,"v":18.1},{"d":544.1,"v":20.4},{"d":547,"v":21.5},{"d":550.9,"v":22.4},{"d":552.5,"v":16.2},{"d":554.2,"v":17.2},{"d":556.9,"v":16.8},{"d":559.2,"v":17.8},{"d":560.3,"v":16.8},{"d":560.8,"v":18.9},{"d":564.1,"v":20.4},{"d":566.1,"v":19.1},{"d":567.2,"v":15.2},{"d":570.2,"v":18.5},{"d":572.4,"v":10.6},{"d":574.6,"v":12.8},{"d":577.9,"v":12.8},{"d":579,"v":11.3},{"d":580.7,"v":12.3},{"d":586.2,"v":10.2},{"d":587.3,"v":11.9},{"d":588.6,"v":8.9},{"d":592.2,"v":9.3},{"d":594.4,"v":3.8},{"d":597.2,"v":4.5},{"d":598.8,"v":5},{"d":601.1,"v":0.8},{"d":602.7,"v":1.8},{"d":605.5,"v":-3.4},{"d":607.1,"v":-2.1},{"d":608.8,"v":1.6},{"d":612.6,"v":1.4},{"d":614.8,"v":-1.2},{"d":616.5,"v":0.5},{"d":620.4,"v":-1.8},{"d":622,"v":-3.2},{"d":623.1,"v":-1.2},{"d":624.2,"v":-4.7},{"d":627,"v":-8.4},{"d":628.6,"v":-5.5},{"d":629.4,"v":-6.8},{"d":630.8,"v":-4.7},{"d":634.1,"v":-4.2},{"d":635.8,"v":-6},{"d":637.8,"v":-12.3},{"d":640.8,"v":-7.1},{"d":643.5,"v":-4.2},{"d":646.8,"v":-6.8},{"d":649,"v":-8.4},{"d":649.9,"v":-10},{"d":653.4,"v":-6.8},{"d":655.6,"v":-5.5},{"d":656.7,"v":-6.8},{"d":657.8,"v":-6},{"d":661.2,"v":-10.3},{"d":663.4,"v":-9},{"d":665.6,"v":-5.1},{"d":668.9,"v":-5.5},{"d":670,"v":-1.2},{"d":672.4,"v":2.7},{"d":676.6,"v":0.5},{"d":678.8,"v":5.8},{"d":679.9,"v":6.9},{"d":683.8,"v":6.7},{"d":685.2,"v":11.5},{"d":686.5,"v":11.3},{"d":689.6,"v":14.1},{"d":691.5,"v":11.9},{"d":692.6,"v":14.5},{"d":696.4,"v":15.2},{"d":697.5,"v":15.8},{"d":699.5,"v":14.1},{"d":700.8,"v":11.5},{"d":703.6,"v":9.9},{"d":704.4,"v":11.5},{"d":706.9,"v":7.6},{"d":708,"v":8.9},{"d":711.3,"v":8},{"d":712.4,"v":10.2},{"d":713.5,"v":10.6},{"d":719.1,"v":7.1},{"d":720.2,"v":8.6},{"d":721.8,"v":9.7},{"d":725.1,"v":10.2},{"d":726,"v":10.6},{"d":727,"v":5.6}]
},
"encoding":{
 "x":{"field":"d","type":"quantitative","scale":{"domain":[0,727],"nice":false,"zero":false},
  "axis":{"title":null,"values":[0,31,60,91,121,152,182,213,244,274,305,335,366,397,425,456,486,517,547,578,609,639,670,700],
   "labelExpr":"['J-20','F-20','M-20','A-20','M-20','J-20','J-20','A-20','S-20','O-20','N-20','D-20','J-21','F-21','M-21','A-21','M-21','J-21','J-21','A-21','S-21','O-21','N-21','D-21'][indexof([0,31,60,91,121,152,182,213,244,274,305,335,366,397,425,456,486,517,547,578,609,639,670,700], datum.value)]",
   "grid":true,"gridColor":"#D9D9D9","gridWidth":1,"domain":false,"ticks":false,"labelFontSize":20,"labelColor":"#595959","labelPadding":17,"labelFlush":false,"labelOverlap":false}},
 "y":{"field":"v","type":"quantitative","scale":{"domain":[-30,170],"nice":false,"zero":false},
  "axis":{"orient":"right","title":null,"values":[-30,-10,0,10,30,50,70,90,110,130,150,170],"labelExpr":"datum.value == 0 ? '' : datum.label",
   "grid":true,"gridColor":"#D9D9D9","gridWidth":1.5,"domain":false,"ticks":false,"labelFontSize":19,"labelColor":"#BFBFBF","labelPadding":20,"labelOverlap":false}}
},
"layer":[
 {"data":{"name":"spot"},"mark":{"type":"line","strokeWidth":3},"encoding":{"color":{"datum":"SPOT","type":"nominal","scale":{"domain":["SPOT","FORWARD 2Y","FORWARD 3Y","FORWARD 5Y"],"range":["#4472C4","#ED7D31","#A5A5A5","#FFC000"]}}}},
 {"data":{"name":"f2"},"mark":{"type":"line","strokeWidth":3},"encoding":{"color":{"datum":"FORWARD 2Y","type":"nominal"}}},
 {"data":{"name":"f3"},"mark":{"type":"line","strokeWidth":3},"encoding":{"color":{"datum":"FORWARD 3Y","type":"nominal"}}},
 {"data":{"name":"f5"},"mark":{"type":"line","strokeWidth":3},"encoding":{"color":{"datum":"FORWARD 5Y","type":"nominal"}}},
 {"data":{"values":[{"d":727,"v":71.5,"t":"71.5"},{"d":727,"v":5.6,"t":"5.6"},{"d":727,"v":-5.4,"t":"-5.4"},{"d":727,"v":-12.9,"t":"-12.9"}]},
  "mark":{"type":"text","align":"left","baseline":"middle","dx":12,"dy":3,"fontSize":21,"color":"#404040"},
  "encoding":{"text":{"field":"t","type":"nominal"}}}
]
}
